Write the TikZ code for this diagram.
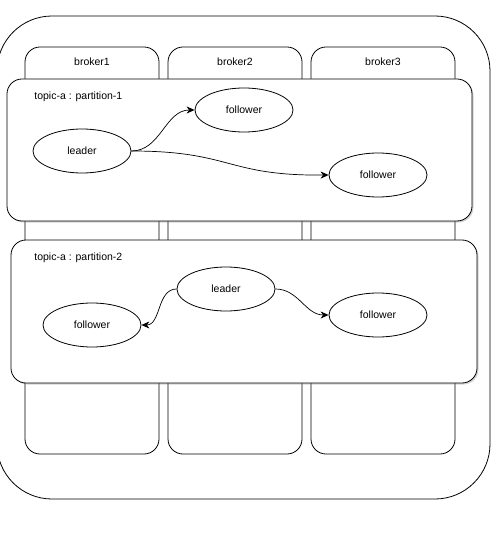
\documentclass[tikz,border=0pt]{standalone}
\usepackage{fontspec}
\setmainfont{Liberation Sans}
\usetikzlibrary{positioning, shapes.geometric, arrows.meta, shadows}

\begin{document}
\begin{tikzpicture}[x=1bp, y=-1bp, line width=0.8bp,
		box/.style={draw, rounded corners=15bp, fill=white, inner sep=0pt},
		part/.style={box, drop shadow={shadow xshift=1.5bp, shadow yshift=-1.5bp, opacity=0.35}},
		e/.style={ellipse, draw, fill=white, minimum width=98bp, minimum height=44bp, inner sep=0pt},
		t/.style={font=\fontsize{10.5bp}{12bp}\selectfont, inner sep=0pt},
		a/.style={-{Stealth[length=8bp, width=7bp, inset=2.5bp]}, line width=0.7bp}]
		\useasboundingbox (0,0) rectangle (500,550);

		% cluster
		\draw[rounded corners=55bp] (-3,16) rectangle (490,499);

		% brokers
		\node[box, minimum width=134bp, minimum height=407bp] (b1) at (92,250.5) {};
		\node[box, minimum width=134bp, minimum height=407bp] (b2) at (235,250.5) {};
		\node[box, minimum width=144bp, minimum height=407bp] (b3) at (383,250.5) {};
		\node[t] (n1) at (92,62) {broker1};
		\node[t] (n2) at (235,62) {broker2};
		\node[t] (n3) at (383,62) {broker3};

		% partitions
		\node[part, minimum width=465bp, minimum height=142bp] (p1) at (239.5,150) {};
		\node[part, minimum width=466bp, minimum height=143bp] (p2) at (244,311.5) {};
		\node[t, anchor=west] (pl1) at (34,97) {topic-a : partition-1};
		\node[t, anchor=west] (pl2) at (34,258) {topic-a : partition-2};

		\node[e, t] (l1) at (82,151) {leader};
		\node[e, t] (f11) at (244,110) {follower};
		\node[e, t] (f12) at (378,175) {follower};

		\node[e, t] (l2) at (226,289) {leader};
		\node[e, t] (f21) at (92,325) {follower};
		\node[e, t] (f22) at (378,315) {follower};

		\path[a] (l1.east) edge[out=0, in=180] (f11.west);
		\draw[a] (l1.east) .. controls (232,151) and (226,176) .. (f12.west);
		\path[a] (l2.west) edge[out=180, in=0] (f21.east);
		\path[a] (l2.east) edge[out=0, in=180] (f22.west);
	\end{tikzpicture}
\end{document}
